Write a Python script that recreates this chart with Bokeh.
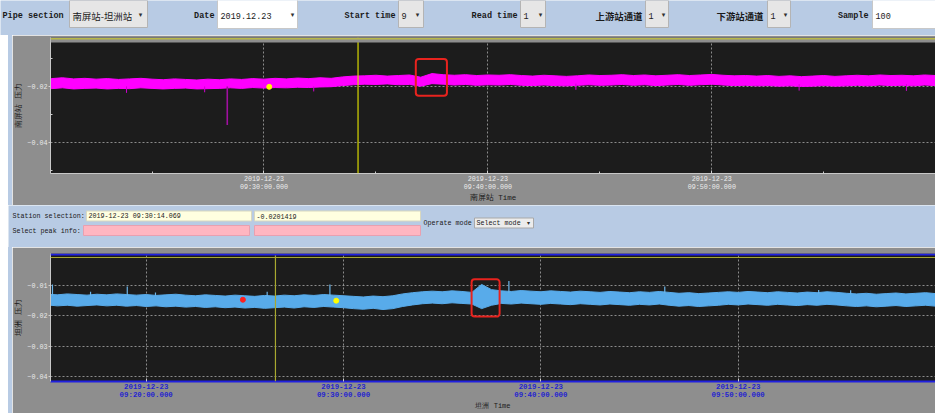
import numpy as np
from bokeh.plotting import figure
from bokeh.models import Range1d, FixedTicker, Span, BoxAnnotation, Spacer
from bokeh.layouts import column, row
from bokeh.core.properties import value
from bokeh.embed import file_html
from bokeh.resources import INLINE

# ---------------- data ----------------
# times are minutes after 09:00 on 2019-12-23
top_ticks = [30, 40, 50]
top_minor = [25, 35, 45, 55]
top_tick_labels = ["2019-12-23\n09:30:00.000", "2019-12-23\n09:40:00.000", "2019-12-23\n09:50:00.000"]
bot_ticks = [20, 30, 40, 50]
bot_tick_labels = ["2019-12-23\n09:20:00.000", "2019-12-23\n09:30:00.000",
                   "2019-12-23\n09:40:00.000", "2019-12-23\n09:50:00.000"]
top_y_ticks = [-0.04, -0.02]
top_y_minor = [-0.05, -0.03, -0.01]
bot_y_ticks = [-0.04, -0.03, -0.02, -0.01]

# 南屏站 pressure band (upper / lower envelope), sampled every 0.5 min from 09:20:00
top_start = 20.0
top_upper = [-0.0170, -0.0172, -0.0169, -0.0173, -0.0171, -0.0174, -0.0172, -0.0175, -0.0173, -0.0171,
             -0.0174, -0.0176, -0.0173, -0.0175, -0.0177, -0.0174, -0.0176, -0.0173, -0.0175, -0.0172,
             -0.0174, -0.0171, -0.0173, -0.0170, -0.0172, -0.0169, -0.0171, -0.0166, -0.0163,
             -0.0162, -0.0160, -0.0163, -0.0161, -0.0159, -0.0167, -0.0154, -0.0158, -0.0160, -0.0158,
             -0.0161, -0.0159, -0.0160, -0.0158, -0.0161, -0.0163, -0.0160, -0.0162, -0.0164, -0.0162,
             -0.0159, -0.0161, -0.0160, -0.0158, -0.0161, -0.0159, -0.0162, -0.0160, -0.0158, -0.0161,
             -0.0159, -0.0157, -0.0160, -0.0162, -0.0161, -0.0163, -0.0161, -0.0164, -0.0162, -0.0165,
             -0.0163, -0.0161, -0.0164, -0.0162, -0.0160, -0.0162, -0.0159, -0.0161, -0.0160, -0.0162,
             -0.0159, -0.0161]
top_lower = [-0.0206, -0.0208, -0.0205, -0.0209, -0.0207, -0.0206, -0.0209, -0.0207, -0.0208, -0.0205,
             -0.0207, -0.0209, -0.0207, -0.0206, -0.0209, -0.0208, -0.0207, -0.0205, -0.0207, -0.0204,
             -0.0206, -0.0204, -0.0205, -0.0203, -0.0204, -0.0202, -0.0201, -0.0197, -0.0194,
             -0.0192, -0.0193, -0.0191, -0.0194, -0.0193, -0.0199, -0.0190, -0.0192, -0.0195, -0.0193,
             -0.0196, -0.0194, -0.0195, -0.0193, -0.0196, -0.0197, -0.0195, -0.0197, -0.0198, -0.0196,
             -0.0194, -0.0196, -0.0195, -0.0193, -0.0196, -0.0194, -0.0197, -0.0195, -0.0193, -0.0196,
             -0.0194, -0.0192, -0.0195, -0.0197, -0.0196, -0.0198, -0.0197, -0.0199, -0.0198, -0.0200,
             -0.0199, -0.0197, -0.0199, -0.0198, -0.0196, -0.0198, -0.0195, -0.0197, -0.0196, -0.0198,
             -0.0195, -0.0197]
top_spike_t = [23.86, 27.35, 28.36, 32.22, 43.93, 53.90, 58.69]
top_spike_base = [-0.0200, -0.0200, -0.0200, -0.0200, -0.0190, -0.0192, -0.0192]
top_spike_tip = [-0.0223, -0.0221, -0.0338, -0.0218, -0.0212, -0.0215, -0.0216]
top_sel_t, top_sel_v = [30.234], [-0.0201419]
top_cursor_t = 34.20
top_box = dict(left=36.78, right=38.17, top=-0.0102, bottom=-0.0233)

# 坦洲 pressure band, sampled every 0.5 min from 09:15:00
bot_start = 15.0
bot_upper = [-0.0130, -0.0132, -0.0129, -0.0131, -0.0133, -0.0130, -0.0132, -0.0129, -0.0131, -0.0133,
             -0.0131, -0.0134, -0.0132, -0.0130, -0.0133, -0.0135, -0.0132, -0.0134, -0.0136, -0.0133,
             -0.0135, -0.0137, -0.0134, -0.0136, -0.0133, -0.0135, -0.0132, -0.0134, -0.0131, -0.0133,
             -0.0135, -0.0137, -0.0139, -0.0136, -0.0138, -0.0135, -0.0129, -0.0125, -0.0122, -0.0120,
             -0.0122, -0.0119, -0.0121, -0.0124, -0.0098, -0.0115, -0.0119, -0.0121, -0.0118, -0.0120,
             -0.0122, -0.0119, -0.0121, -0.0123, -0.0120, -0.0122, -0.0124, -0.0121, -0.0123, -0.0125,
             -0.0122, -0.0124, -0.0121, -0.0124, -0.0127, -0.0125, -0.0128, -0.0126, -0.0124, -0.0122,
             -0.0124, -0.0121, -0.0123, -0.0125, -0.0122, -0.0124, -0.0126, -0.0123, -0.0125, -0.0122,
             -0.0124, -0.0127, -0.0129, -0.0127, -0.0130, -0.0128, -0.0126, -0.0129, -0.0127, -0.0125,
             -0.0128]
bot_lower = [-0.0165, -0.0168, -0.0166, -0.0169, -0.0167, -0.0165, -0.0168, -0.0166, -0.0169, -0.0167,
             -0.0170, -0.0168, -0.0171, -0.0169, -0.0172, -0.0170, -0.0173, -0.0171, -0.0174, -0.0172,
             -0.0175, -0.0173, -0.0176, -0.0174, -0.0172, -0.0175, -0.0171, -0.0173, -0.0170, -0.0172,
             -0.0174, -0.0177, -0.0179, -0.0176, -0.0180, -0.0177, -0.0170, -0.0165, -0.0161, -0.0159,
             -0.0161, -0.0158, -0.0160, -0.0162, -0.0177, -0.0166, -0.0160, -0.0162, -0.0159, -0.0161,
             -0.0163, -0.0160, -0.0162, -0.0164, -0.0161, -0.0163, -0.0165, -0.0162, -0.0164, -0.0166,
             -0.0163, -0.0165, -0.0162, -0.0166, -0.0169, -0.0167, -0.0170, -0.0168, -0.0166, -0.0163,
             -0.0165, -0.0162, -0.0164, -0.0166, -0.0163, -0.0165, -0.0167, -0.0164, -0.0166, -0.0163,
             -0.0165, -0.0168, -0.0170, -0.0168, -0.0171, -0.0169, -0.0167, -0.0170, -0.0168, -0.0166,
             -0.0169]
bot_spike_t = [15.25, 17.18, 19.04, 20.47, 26.13, 29.31, 38.38, 46.28, 54.08, 55.70]
bot_spike_base = [-0.0135, -0.0135, -0.0135, -0.0135, -0.0137, -0.0135, -0.0125, -0.0127, -0.0128, -0.0130]
bot_spike_tip = [-0.0098, -0.0122, -0.0105, -0.0124, -0.0122, -0.0098, -0.0087, -0.0105, -0.0116, -0.0117]
bot_red_t, bot_red_v = [24.90], [-0.0148]
bot_sel_t, bot_sel_v = [29.63], [-0.0151]
bot_cursor_t = 26.55
bot_limit_v = -0.0010
bot_box = dict(left=36.49, right=37.91, top=-0.0081, bottom=-0.0203)

# ---------------- styles ----------------
LB = "#b8cbe4"
GREY = "#8e8e8e"
DARK = "#1c1c1c"
MAG = "#ff00ff"
SKY = "#58abea"
MONO = "Liberation Mono"
CJK = "Noto Sans CJK SC"


def ui_fig(width, height, x_left, y_top, y_bottom):
    f = figure(width=width, height=height, x_range=Range1d(x_left, 935), y_range=Range1d(y_bottom, y_top),
               output_backend="svg", toolbar_location=None, min_border=0,
               x_axis_location=None, y_axis_location=None)
    f.grid.visible = False
    f.outline_line_color = None
    f.background_fill_color = LB
    f.border_fill_color = LB
    return f


# ---------------- top control bar ----------------
bar = ui_fig(935, 35, 0, 0, 35)
bar.quad(left=[69, 398, 520, 645, 767], right=[147, 423, 545, 668, 790], top=[0] * 5, bottom=[27] * 5,
         fill_color="#e6e6e6", line_color="#b4b4b4", line_width=1)
bar.quad(left=[217, 872], right=[297, 940], top=[-1, -1], bottom=[28, 28],
         fill_color="#ffffff", line_color="#c8c8c8", line_width=1)
bar.text(x=[2], y=[15], text=["Pipe section"],
         text_font=value("Liberation Mono"), text_font_size="8.5px", text_font_style="bold",
         text_align="left", text_baseline="middle", text_color="#1a1a1a")
bar.text(x=[214, 395, 517, 868], y=[15] * 4, text=["Date", "Start time", "Read time", "Sample"],
         text_font=value("Liberation Mono"), text_font_size="8.5px", text_font_style="bold",
         text_align="right", text_baseline="middle", text_color="#1a1a1a")
bar.text(x=[642, 763], y=[15, 15], text=["上游站通道", "下游站通道"],
         text_font=value(CJK), text_font_size="9.4px", text_font_style="bold",
         text_align="right", text_baseline="middle", text_color="#1a1a1a")
bar.text(x=[72], y=[15], text=["南屏站-坦洲站"], text_font=value(CJK), text_font_size="9.4px",
         text_align="left", text_baseline="middle", text_color="#1a1a1a")
bar.text(x=[220, 401, 523, 648, 770, 875], y=[15] * 6, text=["2019.12.23", "9", "1", "1", "1", "100"],
         text_font=value("Liberation Mono"), text_font_size="8.5px",
         text_align="left", text_baseline="middle", text_color="#1a1a1a")
bar.text(x=[140, 292, 417, 540, 663, 785], y=[14.5] * 6, text=["▾"] * 6,
         text_font=value("DejaVu Sans"), text_font_size="7px",
         text_align="center", text_baseline="middle", text_color="#303030")


# ---------------- chart helper ----------------
def chart(x_rng, y_rng, height, mb_top, mb_bottom, xticks, xminor, xlabels, yticks, yminor,
          xlabel_color, xlabel_style, xlabel_size, xline_height, x_title, y_title):
    p = figure(width=923, height=height, x_range=Range1d(*x_rng), y_range=Range1d(*y_rng),
               output_backend="svg", toolbar_location=None,
               min_border_left=38, min_border_right=0, min_border_top=mb_top, min_border_bottom=mb_bottom)
    p.background_fill_color = DARK
    p.border_fill_color = GREY
    p.outline_line_color = None
    p.xaxis.ticker = FixedTicker(ticks=xticks, minor_ticks=xminor)
    p.xaxis.major_label_overrides = dict(zip(xticks, xlabels))
    p.yaxis.ticker = FixedTicker(ticks=yticks, minor_ticks=yminor)
    for ax in (p.xaxis[0], p.yaxis[0]):
        ax.axis_line_color = "#c8c8c8"
        ax.major_tick_line_color = "#d0d0d0"
        ax.minor_tick_line_color = "#d0d0d0"
        ax.major_tick_in = 0
        ax.major_tick_out = 2
        ax.minor_tick_in = 2
        ax.minor_tick_out = 0
        ax.major_label_text_font = MONO
        ax.axis_label_text_font = MONO
        ax.axis_label_text_font_style = "normal"
        ax.axis_label_text_font_size = "7.5px"
        ax.axis_label_text_color = "#1a1a1a"
    p.xaxis.major_tick_out = 0
    p.xaxis.major_tick_in = 3
    p.xaxis.major_label_standoff = 1
    p.xaxis.major_label_text_line_height = xline_height
    p.xaxis.major_label_text_color = xlabel_color
    p.xaxis.major_label_text_font_style = xlabel_style
    p.xaxis.major_label_text_font_size = xlabel_size
    p.xaxis.axis_label = x_title
    p.xaxis.axis_label_standoff = 0
    p.yaxis.major_label_text_color = "#e8e8e8"
    p.yaxis.major_label_text_font_size = "6.7px"
    p.yaxis.major_label_standoff = 1
    p.yaxis.axis_label = y_title
    p.yaxis.axis_label_standoff = 1
    p.grid.grid_line_color = "#a8a8a8"
    p.grid.grid_line_dash = "2 2"
    p.grid.grid_line_alpha = 0.8
    return p


# ---------------- top chart (南屏站) ----------------
top = chart((20.465, 59.99), (-0.0512, -0.00247), 170, 2, 30, top_ticks, top_minor, top_tick_labels,
            top_y_ticks, top_y_minor, "#ececec", "normal", "6.7px", 1.1, "南屏站 Time", "南屏站 压力")
top_t = top_start + 0.5 * np.arange(len(top_upper))
top.varea(x=top_t, y1=top_lower, y2=top_upper, fill_color=MAG)
top.line(top_t, top_upper, line_color=MAG, line_width=1)
top.line(top_t, top_lower, line_color=MAG, line_width=1)
top.segment(x0=top_spike_t, y0=top_spike_base, x1=top_spike_t, y1=top_spike_tip,
            line_color=["#d000d0", "#d000d0", "#a010a0", "#d000d0", "#d000d0", "#d000d0", "#d000d0"],
            line_width=[1, 1, 1.6, 1, 1, 1, 1])
top.scatter(top_sel_t, top_sel_v, size=5, fill_color="#ffff00", line_color="#ffff00")
top.add_layout(Span(location=top_cursor_t, dimension="height", line_color="#d8d800", line_width=1.2))
top.add_layout(BoxAnnotation(bottom=-0.00423, fill_color=GREY, fill_alpha=1, line_color=None, level="overlay"))
top.add_layout(Span(location=-0.0029, dimension="width", line_color="#b8b848", line_width=1.5, level="overlay"))
top.add_layout(BoxAnnotation(left=top_box["left"], right=top_box["right"], top=top_box["top"],
                             bottom=top_box["bottom"], fill_alpha=0, line_color="#e8231e", line_alpha=1,
                             line_width=2, border_radius=3))

# ---------------- middle info panel ----------------
mid = ui_fig(927, 42, 8, 205, 247)
mid.quad(left=[86, 254], right=[251, 420], top=[210.5, 210.5], bottom=[220.5, 220.5],
         fill_color="#ffffe0", line_color="#d8d8c0", line_width=1)
mid.quad(left=[83, 254], right=[249, 420], top=[225, 225], bottom=[235, 235],
         fill_color="#ffb6c1", line_color="#e8a0b0", line_width=1)
mid.quad(left=[474], right=[533], top=[217.5], bottom=[227.5],
         fill_color="#ececec", line_color="#a8a8a8", line_width=1)
mid.text(x=[12, 12, 423], y=[215.5, 230, 222], text=["Station selection:", "Select peak info:", "Operate mode"],
         text_font=value("Liberation Mono"), text_font_size="6.7px",
         text_align="left", text_baseline="middle", text_color="#1a1a1a")
mid.text(x=[88, 256, 476], y=[215.5, 215.5, 222.5], text=["2019-12-23 09:30:14.069", "-0.0201419", "Select mode"],
         text_font=value("Liberation Mono"), text_font_size="6.7px",
         text_align="left", text_baseline="middle", text_color="#1a1a1a")
mid.text(x=[528], y=[222], text=["▾"], text_font=value("DejaVu Sans"), text_font_size="6px",
         text_align="center", text_baseline="middle", text_color="#303030")

# ---------------- bottom chart (坦洲) ----------------
bot = chart((15.150, 60.00), (-0.0415, 0.0003), 166, 6, 30, bot_ticks, [], bot_tick_labels,
            bot_y_ticks, [], "#2424d0", "bold", "7.4px", 1.1, "坦洲 Time", "坦洲 压力")
bot.xaxis.axis_line_color = "#2020e0"
bot.xaxis.axis_line_width = 2
bot.xaxis.major_label_standoff = 1
bot.xaxis.axis_label_text_font_size = "7px"
bot_t = bot_start + 0.5 * np.arange(len(bot_upper))
bot.varea(x=bot_t, y1=bot_lower, y2=bot_upper, fill_color=SKY)
bot.line(bot_t, bot_upper, line_color=SKY, line_width=1)
bot.line(bot_t, bot_lower, line_color=SKY, line_width=1)
bot.segment(x0=bot_spike_t, y0=bot_spike_base, x1=bot_spike_t, y1=bot_spike_tip,
            line_color="#6cb6ea", line_width=1.2)
bot.scatter(bot_red_t, bot_red_v, size=5, fill_color="#ff2020", line_color="#ff2020")
bot.scatter(bot_sel_t, bot_sel_v, size=5, fill_color="#ffff00", line_color="#ffff00")
bot.add_layout(Span(location=bot_cursor_t, dimension="height", line_color="#a8a830", line_width=1.2))
bot.add_layout(Span(location=0.0, dimension="width", line_color="#2020e0", line_width=2))
bot.add_layout(Span(location=bot_limit_v, dimension="width", line_color="#a8a830", line_width=1.2))
bot.add_layout(BoxAnnotation(left=bot_box["left"], right=bot_box["right"], top=bot_box["top"],
                             bottom=bot_box["bottom"], fill_alpha=0, line_color="#e8231e", line_alpha=1,
                             line_width=2, border_radius=3))

layout = column(
    bar,
    row(Spacer(width=8, height=170), Spacer(width=4, height=170, styles={"background-color": LB}), top),
    row(Spacer(width=8, height=42), mid),
    row(Spacer(width=8, height=166), Spacer(width=4, height=166, styles={"background-color": LB}), bot),
)

open("out.html", "w").write(file_html(layout, INLINE))
